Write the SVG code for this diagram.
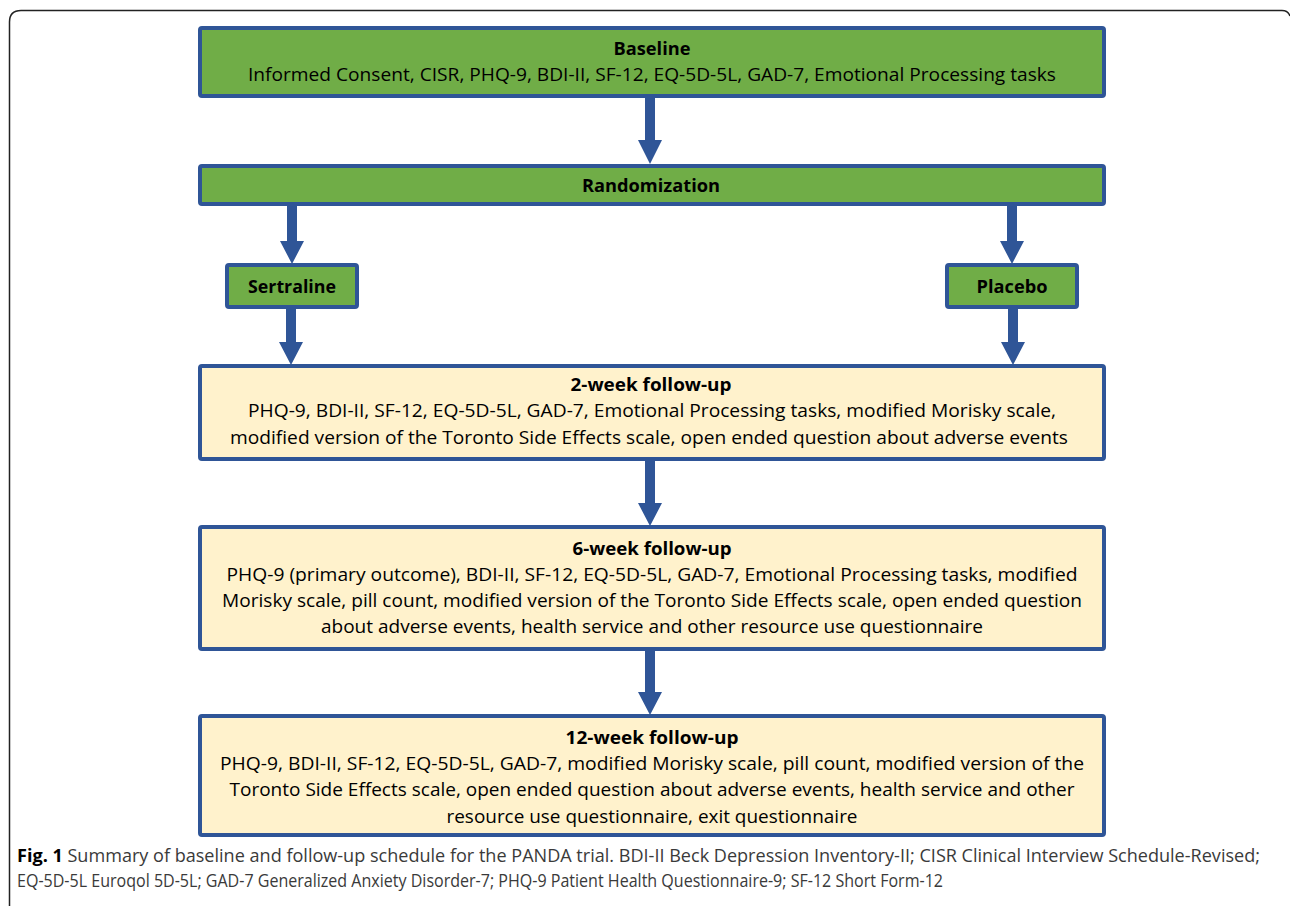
<svg xmlns="http://www.w3.org/2000/svg" width="1290" height="906" viewBox="0 0 1290 906">
<style>
.g{fill:#70AD47;stroke:#2F5597;stroke-width:4}
.y{fill:#FFF2CC;stroke:#2F5597;stroke-width:4}
.t{font-family:"Open Sans","Noto Sans",sans-serif;font-size:18px;fill:#000;text-anchor:middle}
.b{font-weight:bold}
.a{fill:#2F5597}
.c{font-family:"Open Sans","Noto Sans",sans-serif;font-size:17.5px;fill:#3a3a3a}
</style>
<rect width="1290" height="906" fill="#fff"/>
<path d="M9.5 906 V22 Q9.5 10.5 21 10.5 H1282 Q1288 10.5 1290 16" fill="none" stroke="#222" stroke-width="1.5"/>
<g id="connectors">
<polygon class="a" points="645,96 655,96 655,140 662,140 650,164 638,140 645,140"/>
<polygon class="a" points="287,204 297,204 297,241 304,241 292,264 280,241 287,241"/>
<polygon class="a" points="1007,204 1017,204 1017,241 1024,241 1012,264 1000,241 1007,241"/>
<polygon class="a" points="286,307 296,307 296,342 303,342 291,365 279,342 286,342"/>
<polygon class="a" points="1008,307 1018,307 1018,342 1025,342 1013,365 1001,342 1008,342"/>
<polygon class="a" points="645,459 655,459 655,503 662,503 650,526 638,503 645,503"/>
<polygon class="a" points="645,649 655,649 655,692 662,692 650,715 638,692 645,692"/>
</g>
<g id="baseline">
<rect class="g" x="200" y="28" width="904" height="68" rx="2"/>
<text class="t b" x="652" y="55" textLength="77" lengthAdjust="spacingAndGlyphs">Baseline</text>
<text class="t" x="652" y="81" textLength="808" lengthAdjust="spacingAndGlyphs">Informed Consent, CISR, PHQ-9, BDI-II, SF-12, EQ-5D-5L, GAD-7, Emotional Processing tasks</text>
</g>
<g id="randomization">
<rect class="g" x="200" y="166" width="904" height="38" rx="2"/>
<text class="t b" x="651" y="192" textLength="138" lengthAdjust="spacingAndGlyphs">Randomization</text>
</g>
<g id="sertraline">
<rect class="g" x="227" y="265" width="130" height="42" rx="2"/>
<text class="t b" x="292" y="293" textLength="88" lengthAdjust="spacingAndGlyphs">Sertraline</text>
</g>
<g id="placebo">
<rect class="g" x="947" y="265" width="130" height="42" rx="2"/>
<text class="t b" x="1012" y="293" textLength="71" lengthAdjust="spacingAndGlyphs">Placebo</text>
</g>
<g id="week2">
<rect class="y" x="200" y="366" width="904" height="93" rx="2"/>
<text class="t b" x="651" y="391" textLength="161" lengthAdjust="spacingAndGlyphs">2-week follow-up</text>
<text class="t" x="652" y="417" textLength="808" lengthAdjust="spacingAndGlyphs">PHQ-9, BDI-II, SF-12, EQ-5D-5L, GAD-7, Emotional Processing tasks, modified Morisky scale,</text>
<text class="t" x="649" y="444" textLength="838" lengthAdjust="spacingAndGlyphs">modified version of the Toronto Side Effects scale, open ended question about adverse events</text>
</g>
<g id="week6">
<rect class="y" x="200" y="527" width="904" height="122" rx="2"/>
<text class="t b" x="652" y="555" textLength="159" lengthAdjust="spacingAndGlyphs">6-week follow-up</text>
<text class="t" x="652" y="581" textLength="851" lengthAdjust="spacingAndGlyphs">PHQ-9 (primary outcome), BDI-II, SF-12, EQ-5D-5L, GAD-7, Emotional Processing tasks, modified</text>
<text class="t" x="652" y="607" textLength="860" lengthAdjust="spacingAndGlyphs">Morisky scale, pill count, modified version of the Toronto Side Effects scale, open ended question</text>
<text class="t" x="652" y="633" textLength="662" lengthAdjust="spacingAndGlyphs">about adverse events, health service and other resource use questionnaire</text>
</g>
<g id="week12">
<rect class="y" x="200" y="716" width="904" height="119" rx="2"/>
<text class="t b" x="652" y="744" textLength="173" lengthAdjust="spacingAndGlyphs">12-week follow-up</text>
<text class="t" x="652" y="770" textLength="864" lengthAdjust="spacingAndGlyphs">PHQ-9, BDI-II, SF-12, EQ-5D-5L, GAD-7, modified Morisky scale, pill count, modified version of the</text>
<text class="t" x="652" y="796" textLength="845" lengthAdjust="spacingAndGlyphs">Toronto Side Effects scale, open ended question about adverse events, health service and other</text>
<text class="t" x="652" y="823" textLength="411" lengthAdjust="spacingAndGlyphs">resource use questionnaire, exit questionnaire</text>
</g>
<g id="caption">
<text class="c" x="17" y="862" textLength="1243" lengthAdjust="spacingAndGlyphs"><tspan font-weight="bold" fill="#000">Fig. 1</tspan> Summary of baseline and follow-up schedule for the PANDA trial. BDI-II Beck Depression Inventory-II; CISR Clinical Interview Schedule-Revised;</text>
<text class="c" x="17" y="887" textLength="926" lengthAdjust="spacingAndGlyphs">EQ-5D-5L Euroqol 5D-5L; GAD-7 Generalized Anxiety Disorder-7; PHQ-9 Patient Health Questionnaire-9; SF-12 Short Form-12</text>
</g>
</svg>
